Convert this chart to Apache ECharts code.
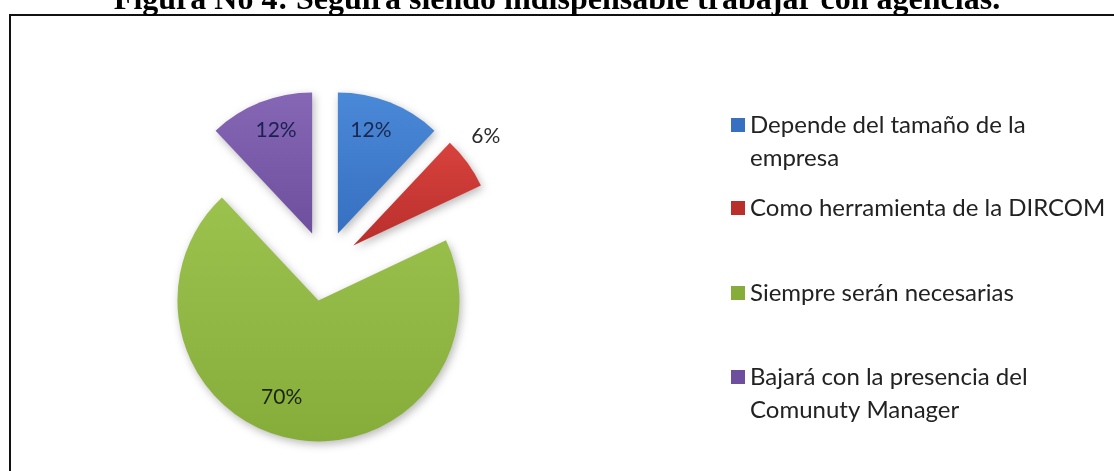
<!DOCTYPE html>
<html>
<head>
<meta charset="utf-8">
<style>
  html, body { margin: 0; padding: 0; background: #fff; }
  #chart { width: 1114px; height: 471px; }
</style>
<script src="https://cdn.jsdelivr.net/npm/echarts@6/dist/echarts.min.js"></script>
</head>
<body>
<div id="chart"></div>
<script>
// Survey answers: will agencies remain indispensable?
const titleText = 'Figura No 4: Seguirá siendo indispensable trabajar con agencias.';
const categories = [
  'Depende del tamaño de la empresa',
  'Como herramienta de la DIRCOM',
  'Siempre serán necesarias',
  'Bajará con la presencia del Comunuty Manager'
];
const legendLines = [
  ['Depende del tamaño de la', 'empresa'],
  ['Como herramienta de la DIRCOM'],
  ['Siempre serán necesarias'],
  ['Bajará con la presencia del', 'Comunuty Manager']
];
const percents = [12, 6, 70, 12];

// slice fills (top colour, bottom colour) and label ink
const fills = [
  ['#4a89d8', '#3770c0'],
  ['#d8423d', '#b92f2c'],
  ['#9cc24e', '#86ad3a'],
  ['#8667b6', '#6d4f9e']
];
const labelInk = ['#1a2850', '#2b2b2b', '#1b240e', '#1a2150'];
// nudges from the default inside-label spot
const labelNudge = [[6, -35], [73, -66], [-23, 25], [-9, -35]];

function grad(c) {
  return new echarts.graphic.LinearGradient(0, 0, 0, 1, [
    { offset: 0, color: c[0] },
    { offset: 1, color: c[1] }
  ]);
}

const pieData = categories.map((name, i) => ({
  name: name,
  value: percents[i],
  selected: true,
  itemStyle: { color: grad(fills[i]) },
  label: { color: labelInk[i] }
}));

// one legend block per entry so each can sit at its own height;
// wrapped entries get an empty lead line so the swatch lines up with the first line
const legendTops = [75.5, 191.5, 276.5, 327.5];
const legends = categories.map((name, i) => {
  const lines = legendLines[i];
  const text = lines.length > 1 ? '\n' + lines.join('\n') : lines[0];
  return {
    data: [{ name: name, itemStyle: { color: fills[i][1] } }],
    left: 731,
    top: legendTops[i],
    padding: 0,
    icon: 'rect',
    itemWidth: 14,
    itemHeight: 14,
    selectedMode: false,
    formatter: () => text,
    textStyle: {
      fontFamily: 'Lato',
      fontSize: 24,
      color: '#222222',
      lineHeight: 33
    }
  };
});

const chart = echarts.init(document.getElementById('chart'), null, { renderer: 'canvas' });
chart.setOption({
  animation: false,
  backgroundColor: '#ffffff',
  title: {
    text: titleText,
    left: 'center',
    top: -15,
    padding: 0,
    textStyle: {
      fontFamily: 'Liberation Serif',
      fontWeight: 'bold',
      fontSize: 32,
      color: '#000000'
    }
  },
  legend: legends,
  graphic: [
    { type: 'line', shape: { x1: 9, y1: 15, x2: 1114, y2: 15 }, style: { stroke: '#111', lineWidth: 2 } },
    { type: 'line', shape: { x1: 10, y1: 14, x2: 10, y2: 471 }, style: { stroke: '#111', lineWidth: 2 } }
  ],
  series: [{
    type: 'pie',
    center: [325, 266],
    radius: 141,
    startAngle: 90,
    clockwise: true,
    selectedMode: 'multiple',
    selectedOffset: 35,
    avoidLabelOverlap: false,
    itemStyle: {
      shadowBlur: 8,
      shadowColor: 'rgba(0,0,0,0.28)',
      shadowOffsetX: 2,
      shadowOffsetY: 3
    },
    label: {
      show: true,
      position: 'inside',
      formatter: '{c}%',
      fontFamily: 'Lato',
      fontSize: 21
    },
    labelLine: { show: false },
    labelLayout: (p) => ({ dx: labelNudge[p.dataIndex][0], dy: labelNudge[p.dataIndex][1] }),
    emphasis: { disabled: true },
    data: pieData
  }]
});
</script>
</body>
</html>
